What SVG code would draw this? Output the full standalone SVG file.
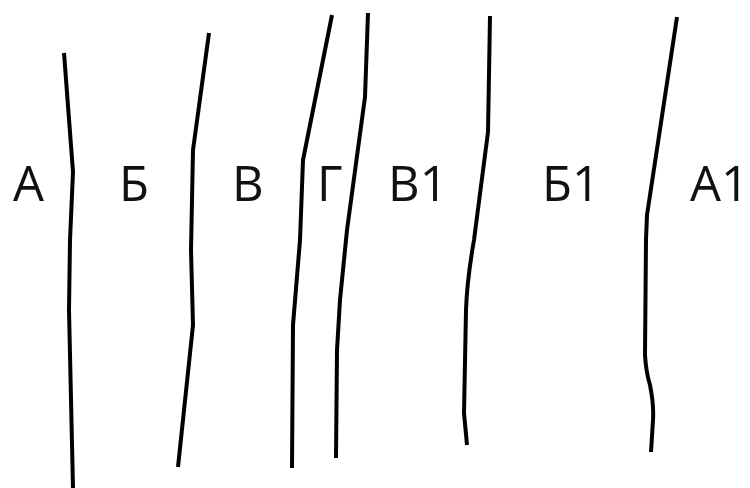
<svg xmlns="http://www.w3.org/2000/svg" width="750" height="488" viewBox="0 0 750 488">
<style>
.ln{fill:none;stroke:#000;stroke-width:4;stroke-linejoin:round;stroke-linecap:butt}
.lb{font-family:"Open Sans","Noto Sans","Liberation Sans",sans-serif;font-size:49px;fill:#111}
</style>
<rect width="750" height="488" fill="#fff"/>
<g id="lines">
<path class="ln" d="M64,53 L73,172 L70,240 L69,310 L73,488"/>
<path class="ln" d="M209,33 L193,150 L191,250 Q192,290 193,325 L178,467"/>
<path class="ln" d="M332,15 L303,160 L300,240 L293,325 L292,468"/>
<path class="ln" d="M368,13 L365,97 L347,230 L340,300 L337,350 L336,458"/>
<path class="ln" d="M490,16 L488,132 L474,240 Q467,280 466,310 L464,413 L467,445"/>
<path class="ln" d="M677,17 L647,215 L646,240 L645,355 Q646,372 650,385 Q654,405 653,420 L651,452"/>
</g>
<g id="labels">
<text class="lb" x="13" y="201">А</text>
<text class="lb" x="119" y="201">Б</text>
<text class="lb" x="232" y="201">В</text>
<text class="lb" x="317" y="201">Г</text>
<text class="lb" x="388" y="201">В1</text>
<text class="lb" x="542" y="201">Б1</text>
<text class="lb" x="749" y="201" text-anchor="end">А1</text>
</g>
</svg>
